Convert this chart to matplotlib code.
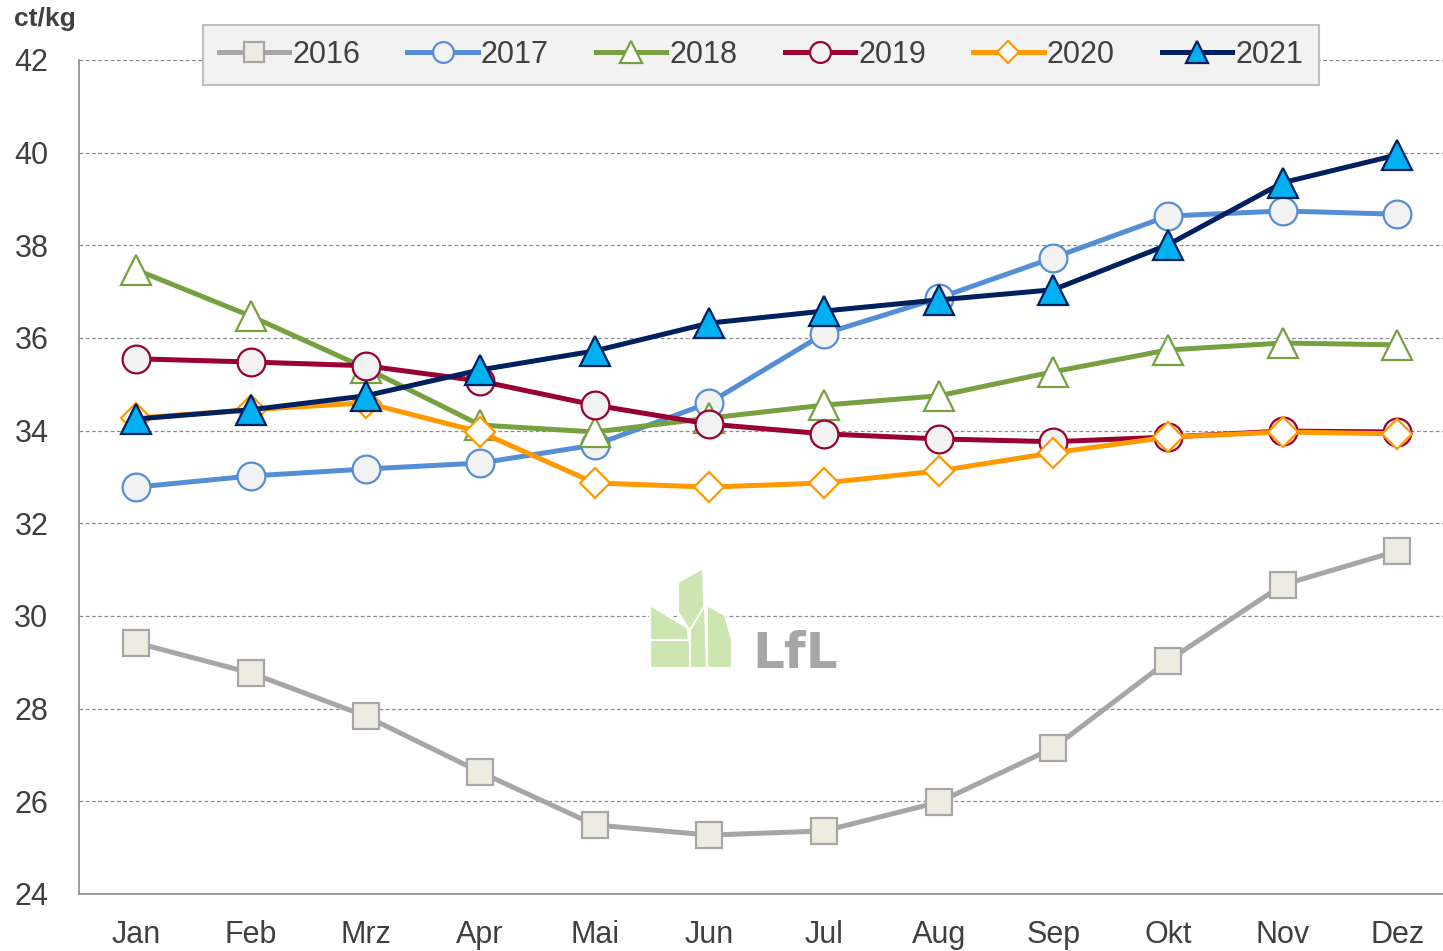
import numpy as np
import matplotlib.pyplot as plt
from matplotlib.patches import Polygon

plt.rcParams['font.family'] = ['Liberation Sans', 'DejaVu Sans']

months = ['Jan', 'Feb', 'Mrz', 'Apr', 'Mai', 'Jun', 'Jul', 'Aug', 'Sep', 'Okt', 'Nov', 'Dez']

y2016 = [29.42, 28.77, 27.84, 26.63, 25.49, 25.27, 25.36, 25.98, 27.15, 29.03, 30.67, 31.40]
y2017 = [32.78, 33.02, 33.17, 33.30, 33.69, 34.60, 36.09, 36.86, 37.73, 38.63, 38.74, 38.67]
y2018 = [37.47, 36.47, 35.35, 34.12, 33.97, 34.27, 34.55, 34.75, 35.27, 35.74, 35.89, 35.85]
y2019 = [35.55, 35.48, 35.40, 35.07, 34.55, 34.14, 33.93, 33.82, 33.76, 33.86, 33.99, 33.97]
y2020 = [34.27, 34.45, 34.60, 33.97, 32.87, 32.78, 32.87, 33.13, 33.52, 33.86, 33.97, 33.93]
y2021 = [34.25, 34.45, 34.75, 35.31, 35.72, 36.32, 36.58, 36.82, 37.04, 38.01, 39.35, 39.95]

series = [
    ('2016', y2016, '#a6a6a6', 's', '#eeece1', '#a6a6a6', 19),
    ('2017', y2017, '#558ed5', 'o', '#f2f2f2', '#558ed5', 20),
    ('2018', y2018, '#77a040', '^', 'white', '#77a040', 22),
    ('2019', y2019, '#990033', 'o', '#f2f2f2', '#990033', 20),
    ('2020', y2020, '#ff9900', 'D', 'white', '#ff9900', 15),
    ('2021', y2021, '#002060', '^', '#00b0f0', '#002060', 22),
]

fig = plt.figure(figsize=(14.43, 9.51), dpi=100)
ax = fig.add_axes([0.0547, 0.06, 0.9453, 0.877])

x = np.arange(len(months))
for lab, ys, col, mk, fc, ec, ms in series:
    ax.plot(x, ys, color=col, linewidth=3.6, marker=mk, markersize=ms,
            markerfacecolor=fc, markeredgecolor=ec, markeredgewidth=1.6, label=lab)

ax.set_ylim(24, 42)
ax.set_xlim(-0.5, 11.4)
ax.set_yticks(np.arange(24, 43, 2))
ax.set_xticks(x)
ax.set_xticklabels(months)
ax.tick_params(length=0, labelsize=22, colors='#404040')
ax.tick_params(axis='y', pad=22)
ax.tick_params(axis='x', pad=19)
ax.yaxis.grid(True, linestyle=(0, (3, 2)), color='#8c8c8c', linewidth=0.9)
ax.set_axisbelow(True)
for s in ['top', 'right']:
    ax.spines[s].set_visible(False)
ax.spines['left'].set_color('#8c8c8c')
ax.spines['bottom'].set_color('#8c8c8c')
ax.spines['left'].set_linewidth(1.2)
ax.spines['bottom'].set_linewidth(1.2)

fig.text(0.010, 0.993, 'ct/kg', fontsize=19, fontweight='bold', color='#404040', va='top')

leg = ax.legend(loc='upper center', bbox_to_anchor=(0.5, 1.042), ncol=6, fontsize=22,
                frameon=True, fancybox=False, handlelength=2.3, handletextpad=0.1,
                columnspacing=1.55, markerscale=0.75, borderpad=0.5, borderaxespad=0)
leg.get_frame().set_facecolor('#f2f2f2')
leg.get_frame().set_edgecolor('#bfbfbf')
leg.get_frame().set_linewidth(1.5)
leg.get_frame().set_alpha(1)
for t in leg.get_texts():
    t.set_color('#404040')

# LfL logo
green = '#cde5b0'
leaves = [
    [(650, 605), (688, 628), (690, 668), (650, 668)],
    [(678, 582), (703, 568), (705, 635), (688, 628), (678, 612)],
    [(690, 630), (705, 605), (707, 668), (690, 668)],
    [(707, 605), (725, 615), (732, 640), (732, 668), (707, 668)],
    [(650, 640), (690, 640), (690, 668), (650, 668)],
]
for pts in leaves:
    fpts = [(px / 1443, 1 - py / 951) for px, py in pts]
    fig.patches.append(Polygon(fpts, closed=True, transform=fig.transFigure,
                               facecolor=green, edgecolor='white', linewidth=1.5, zorder=0.5))
fig.text(752 / 1443, 1 - 668 / 951, 'LfL', fontsize=36, fontweight='bold', color='#a6a6a6',
         va='baseline', family=['DejaVu Sans'])

fig.savefig('out.png', dpi=100)
